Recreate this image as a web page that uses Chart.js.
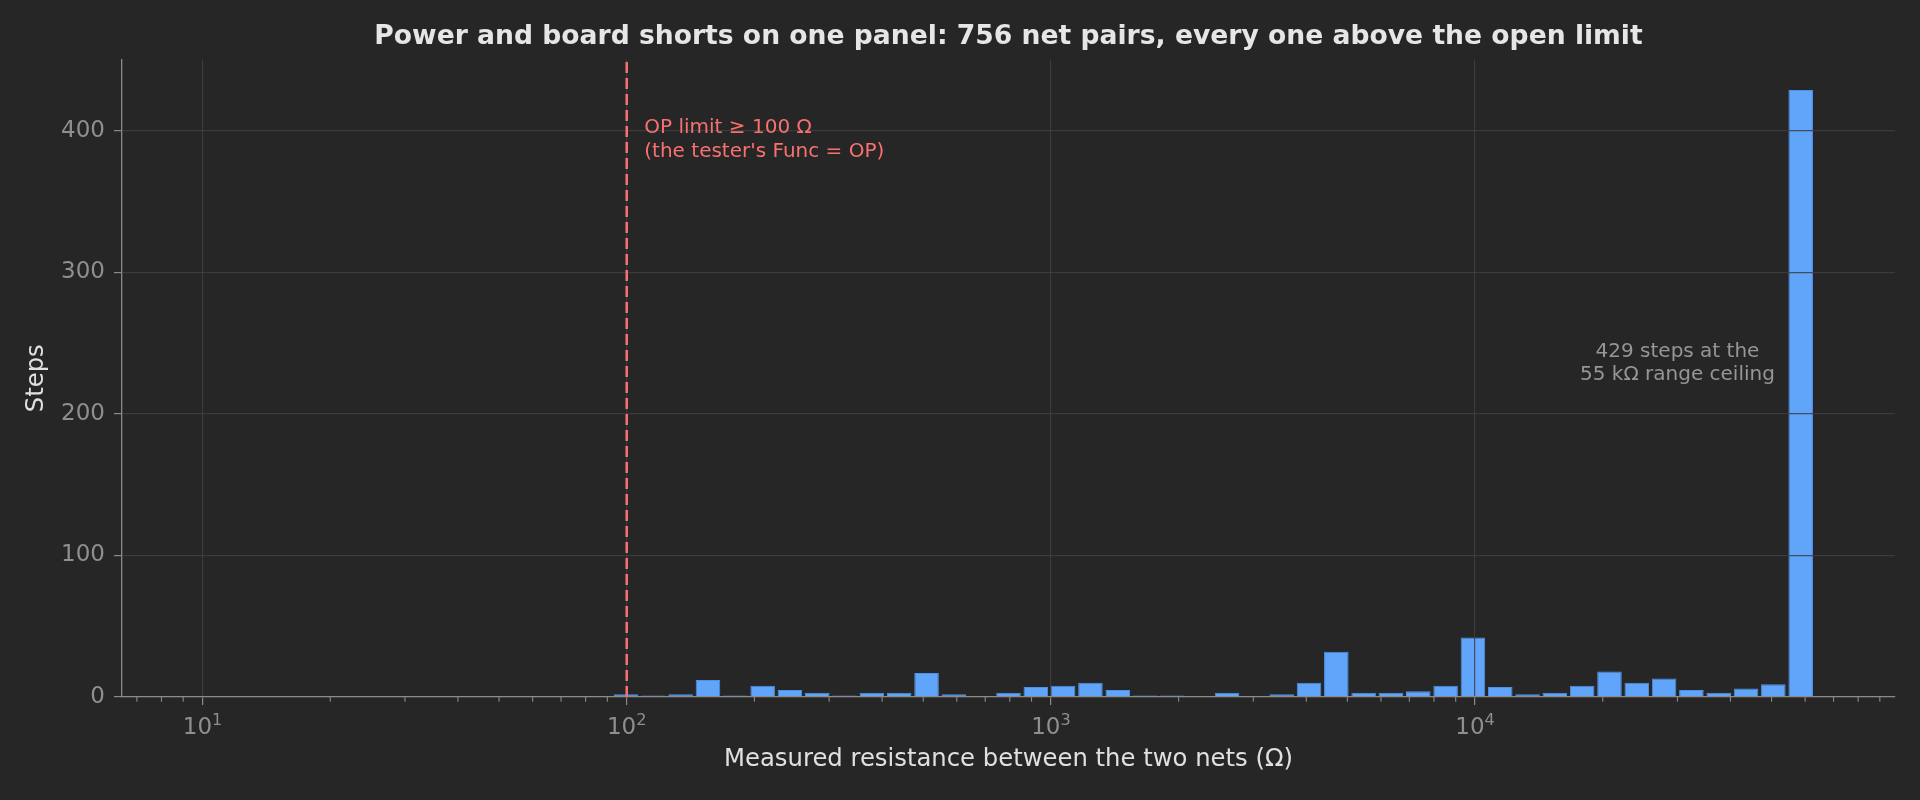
<!DOCTYPE html>
<html>
<head>
<meta charset="utf-8">
<script src="https://cdn.jsdelivr.net/npm/chart.js@4.4.1/dist/chart.umd.min.js"></script>
<style>
  html, body { margin: 0; padding: 0; background: #262626; }
  #wrap { width: 1920px; height: 800px; }
</style>
</head>
<body>
<div id="wrap"><canvas id="c"></canvas></div>
<script>
// ---- data ----
const binEdges = [92.49, 107.28, 124.4, 144.3, 167.4, 194.2, 225.2, 261.2, 302.9, 351.4,
  407.5, 472.7, 548.3, 635.9, 737.6, 855.5, 992.2, 1150.8, 1334.8, 1548.3,
  1795.7, 2082.7, 2415.7, 2802.0, 3249.8, 3769.5, 4372.2, 5070.8, 5881.5, 6822.0,
  7912.9, 9177.4, 10645, 12346, 14319, 16607, 19261, 22339, 25908, 30048,
  34850, 40419, 46878, 54369, 63096];
const stepCounts = [2, 1, 2, 12, 1, 8, 5, 3, 1, 3,
  3, 17, 2, 0, 3, 7, 8, 10, 5, 1,
  1, 0, 3, 0, 2, 10, 32, 3, 3, 4,
  8, 42, 7, 2, 3, 8, 18, 10, 13, 5,
  3, 6, 9, 429];
const xMajorTicks = [10, 100, 1000, 10000];
const xMajorBase = '10';
const xMajorExponents = ['1', '2', '3', '4'];
const xMinorTicks = [7, 8, 9, 20, 30, 40, 50, 60, 70, 80, 90,
  200, 300, 400, 500, 600, 700, 800, 900,
  2000, 3000, 4000, 5000, 6000, 7000, 8000, 9000,
  20000, 30000, 40000, 50000, 60000, 70000, 80000, 90000];
const yTicks = [0, 100, 200, 300, 400];
const xLimits = [6.457, 97724];
const yLimits = [0, 450.45];
const opLimit = 100;
const opLabelAnchor = [110, 402];
const opLabelLines = ['OP limit ≥ 100 Ω', "(the tester's Func = OP)"];
const ceilingLabelAnchor = [30000, 236];
const ceilingLabelLines = ['429 steps at the', '55 kΩ range ceiling'];
const titleText = 'Power and board shorts on one panel: 756 net pairs, every one above the open limit';
const xTitle = 'Measured resistance between the two nets (Ω)';
const yTitle = 'Steps';

// ---- styles ----
const FONT = 'DejaVu Sans';
const BG = '#262626';
const BAR = '#60a5fa';
const BAR_EDGE = '#4f93e6';
const RED = '#f87171';
const AXIS = '#8a8a8a';
const TICKTXT = '#8f8f8f';
const GRID = 'rgba(64,64,64,0.85)';
const LABEL = '#e0e0e0';
const NOTE = '#969696';
const TICK_SIZE = 23;

Chart.defaults.font.family = FONT;

const points = stepCounts.map((c, i) => ({ x: Math.sqrt(binEdges[i] * binEdges[i + 1]), y: c }));

const bgPlugin = {
  id: 'bg',
  beforeDraw(chart) {
    const { ctx, width, height } = chart;
    ctx.save();
    ctx.fillStyle = BG;
    ctx.fillRect(0, 0, width, height);
    ctx.restore();
  }
};

const overlay = {
  id: 'overlay',
  afterDraw(chart) {
    const { ctx, chartArea, scales: { x, y } } = chart;
    ctx.save();
    // minor x ticks
    ctx.strokeStyle = AXIS;
    ctx.lineWidth = 1.1;
    xMinorTicks.forEach(v => {
      const px = x.getPixelForValue(v);
      ctx.beginPath();
      ctx.moveTo(px, chartArea.bottom);
      ctx.lineTo(px, chartArea.bottom + 4.7);
      ctx.stroke();
    });
    // x major tick labels with superscript exponent
    ctx.fillStyle = TICKTXT;
    ctx.textBaseline = 'alphabetic';
    ctx.textAlign = 'left';
    const baseY = chartArea.bottom + 37;
    xMajorTicks.forEach((v, i) => {
      const px = x.getPixelForValue(v);
      ctx.font = TICK_SIZE + 'px "' + FONT + '"';
      const wb = ctx.measureText(xMajorBase).width;
      ctx.font = (TICK_SIZE * 0.7) + 'px "' + FONT + '"';
      const we = ctx.measureText(xMajorExponents[i]).width;
      const start = px - (wb + we) / 2;
      ctx.font = TICK_SIZE + 'px "' + FONT + '"';
      ctx.fillText(xMajorBase, start, baseY);
      ctx.font = (TICK_SIZE * 0.7) + 'px "' + FONT + '"';
      ctx.fillText(xMajorExponents[i], start + wb, baseY - 9.5);
    });
    // OP limit dashed line
    const lx = x.getPixelForValue(opLimit);
    ctx.strokeStyle = RED;
    ctx.lineWidth = 2.5;
    ctx.setLineDash([11, 5]);
    ctx.beginPath();
    ctx.moveTo(lx, chartArea.bottom);
    ctx.lineTo(lx, chartArea.top);
    ctx.stroke();
    ctx.setLineDash([]);
    // annotations
    ctx.font = '20px "' + FONT + '"';
    ctx.textBaseline = 'middle';
    ctx.fillStyle = RED;
    ctx.textAlign = 'left';
    const ax = x.getPixelForValue(opLabelAnchor[0]);
    const ay = y.getPixelForValue(opLabelAnchor[1]);
    opLabelLines.forEach((t, i) => ctx.fillText(t, ax, ay + i * 23.3));
    ctx.fillStyle = NOTE;
    ctx.textAlign = 'center';
    const cx = x.getPixelForValue(ceilingLabelAnchor[0]);
    const cy = y.getPixelForValue(ceilingLabelAnchor[1]);
    ceilingLabelLines.forEach((t, i) => ctx.fillText(t, cx, cy + (i - 0.5) * 23.3));
    ctx.restore();
  }
};

new Chart(document.getElementById('c'), {
  type: 'bar',
  data: {
    datasets: [{
      data: points,
      backgroundColor: BAR,
      borderColor: BAR_EDGE,
      borderWidth: 1,
      borderSkipped: 'start',
      barPercentage: 0.9,
      categoryPercentage: 1.0
    }]
  },
  options: {
    responsive: true,
    maintainAspectRatio: false,
    animation: false,
    devicePixelRatio: 1,
    layout: { padding: { left: 0, right: 25, top: 0, bottom: 0 } },
    plugins: {
      legend: { display: false },
      tooltip: { enabled: false },
      title: {
        display: true,
        text: titleText,
        fullSize: false,
        color: '#e6e6e6',
        font: { family: FONT, size: 26.6, weight: 'bold', lineHeight: 1.2 },
        padding: { top: 21, bottom: 6.6 }
      }
    },
    scales: {
      x: {
        type: 'logarithmic',
        min: xLimits[0],
        max: xLimits[1],
        bounds: 'data',
        offset: false,
        afterBuildTicks: s => { s.ticks = xMajorTicks.map(v => ({ value: v, major: true })); },
        afterFit: s => { s.height = 103; },
        ticks: {
          autoSkip: false,
          maxRotation: 0,
          minRotation: 0,
          padding: 6,
          color: TICKTXT,
          font: { family: FONT, size: TICK_SIZE },
          callback: () => ''
        },
        grid: {
          offset: false,
          z: 1,
          color: GRID,
          lineWidth: 1.2,
          drawTicks: true,
          tickLength: 8,
          tickColor: AXIS,
          tickWidth: 1.2
        },
        border: { display: true, color: AXIS, width: 1.3, z: 2 },
        title: {
          display: true,
          text: xTitle,
          color: LABEL,
          font: { family: FONT, size: 24.3, lineHeight: 1.2 },
          padding: { top: 0, bottom: 25.5 }
        }
      },
      y: {
        type: 'linear',
        min: yLimits[0],
        max: yLimits[1],
        bounds: 'data',
        afterBuildTicks: s => { s.ticks = yTicks.map(v => ({ value: v })); },
        afterFit: s => { s.width = 122; },
        ticks: {
          padding: 9,
          color: TICKTXT,
          font: { family: FONT, size: TICK_SIZE },
          callback: v => String(v)
        },
        grid: {
          z: 1,
          color: GRID,
          lineWidth: 1.2,
          drawTicks: true,
          tickLength: 8,
          tickColor: AXIS,
          tickWidth: 1.2
        },
        border: { display: true, color: AXIS, width: 1.3, z: 2 },
        title: {
          display: true,
          text: yTitle,
          color: LABEL,
          font: { family: FONT, size: 24.3, lineHeight: 1.2 },
          padding: { top: 22.5, bottom: 0 }
        }
      }
    }
  },
  plugins: [bgPlugin, overlay]
});
</script>
</body>
</html>
